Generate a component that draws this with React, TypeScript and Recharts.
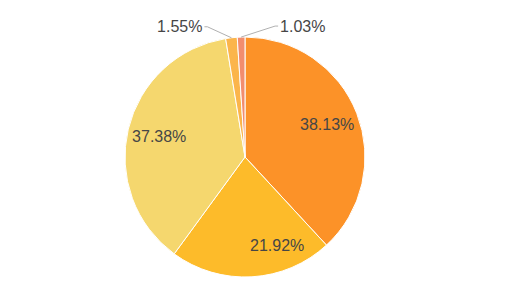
import React from "react";
import { PieChart, Pie, Cell } from "recharts";

const names = ["A", "B", "C", "D", "E"];
const values = [38.13, 21.92, 37.38, 1.55, 1.03];
const colors = ["#FC9228", "#FDBB2A", "#F5D76E", "#FBB54B", "#F28D6E"];

const data = names.map((n, i) => ({ name: n, value: values[i] }));

const RAD = Math.PI / 180;
const FONT = "'Liberation Sans', Arial, sans-serif";

const renderLabel = (props: any) => {
  const { cx, cy, midAngle, outerRadius, value, index } = props;
  const text = `${values[index].toFixed(2)}%`;
  const m = ((midAngle % 360) + 360) % 360;
  const cos = Math.cos(-m * RAD);
  const sin = Math.sin(-m * RAD);
  if (value >= 5) {
    const r = outerRadius * 0.735;
    const x = cx + r * cos;
    const y = cy + r * sin;
    const anchor = Math.abs(cos) < 0.2 ? "start" : "middle";
    return (
      <text
        key={`l${index}`}
        x={x}
        y={y}
        fill="#464646"
        fontSize={16}
        fontFamily={FONT}
        textAnchor={anchor}
        dominantBaseline="central"
      >
        {text}
      </text>
    );
  }
  const side = m > 93.5 ? -1 : 1;
  const ex = cx + outerRadius * cos;
  const ey = cy + outerRadius * sin;
  const bx = ex + side * (side < 0 ? 24 : 34);
  const by = ey - 11;
  const hx = bx + side * 3;
  return (
    <g key={`l${index}`}>
      <polyline
        points={`${ex},${ey} ${bx},${by} ${hx},${by}`}
        fill="none"
        stroke="#b0b0b0"
        strokeWidth={1}
      />
      <text
        x={hx + side * 2}
        y={by}
        fill="#464646"
        fontSize={16}
        fontFamily={FONT}
        textAnchor={side < 0 ? "end" : "start"}
        dominantBaseline="central"
      >
        {text}
      </text>
    </g>
  );
};

export default function App() {
  return (
    <div style={{ position: "absolute", left: 0, top: 0, width: 512, height: 288, background: "#fff" }}>
      <PieChart width={512} height={288} margin={{ top: 0, right: 0, bottom: 0, left: 0 }}>
        <Pie
          data={data}
          dataKey="value"
          nameKey="name"
          cx={245}
          cy={157}
          outerRadius={120}
          startAngle={90}
          endAngle={-270}
          stroke="#ffffff"
          strokeWidth={1}
          label={renderLabel}
          labelLine={false}
          isAnimationActive={false}
        >
          {data.map((d, i) => (
            <Cell key={d.name} fill={colors[i]} />
          ))}
        </Pie>
      </PieChart>
    </div>
  );
}
